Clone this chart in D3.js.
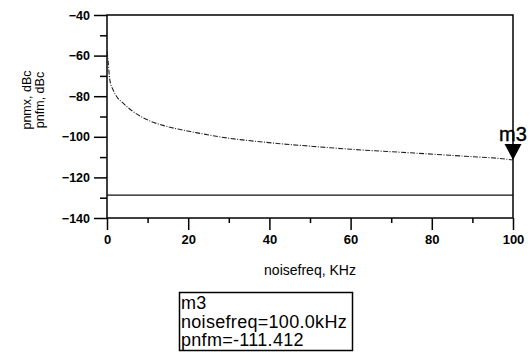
<!DOCTYPE html>
<html>
<head>
<meta charset="utf-8">
<script src="https://cdn.jsdelivr.net/npm/d3@7"></script>
<style>
  html, body { margin: 0; padding: 0; background: #fff; }
  svg { display: block; font-family: "Liberation Sans", Arial, sans-serif; }
</style>
</head>
<body>
<svg id="chart" width="531" height="352"></svg>
<script>
// Noise offset frequency (kHz) and the FM phase-noise curve (dBc)
const noisefreq = [0.05, 0.25, 0.7, 1.5, 2.5, 3.9, 5.9, 8, 10.8, 14, 17.5, 22.9, 28, 32.8, 37, 42.6, 50, 55, 59.9, 66, 72.2, 78, 84.5, 90, 96.8, 100];
const pnfm      = [-58, -62.2, -72.0, -76.9, -80.5, -83.3, -86.8, -89.6, -92.4, -94.5, -96.2, -98.3, -100.1, -101.4, -102.3, -103.4, -104.6, -105.4, -106.1, -106.9, -107.6, -108.3, -109.1, -109.8, -110.7, -111.412];
// Modulator phase noise, flat across the band
const pnmxFreq  = [0, 25, 50, 75, 100];
const pnmx      = [-128.7, -128.7, -128.7, -128.7, -128.7];

const xTicks = [0, 20, 40, 60, 80, 100];
const xMinor = [10, 30, 50, 70, 90];
const yTicks = [-140, -120, -100, -80, -60, -40];
const yMinor = [-130, -110, -90, -70, -50];

const marker = { name: "m3", freq: 100, value: -111.412 };

const svg = d3.select("#chart");
const x = d3.scaleLinear().domain([0, 100]).range([107, 513]);
const y = d3.scaleLinear().domain([-140, -40]).range([218, 15]);

// Axes: major and minor ticks drawn outside the frame
const gx = svg.append("g").attr("transform", `translate(0,${y(-140)})`);
gx.call(d3.axisBottom(x).tickValues(xTicks).tickSize(12).tickFormat(d3.format("d")));
const gxm = svg.append("g").attr("transform", `translate(0,${y(-140)})`);
gxm.call(d3.axisBottom(x).tickValues(xMinor).tickSize(5).tickFormat(""));

const gy = svg.append("g").attr("transform", `translate(${x(0)},0)`);
gy.call(d3.axisLeft(y).tickValues(yTicks).tickSize(13).tickFormat(d3.format("d")));
const gym = svg.append("g").attr("transform", `translate(${x(0)},0)`);
gym.call(d3.axisLeft(y).tickValues(yMinor).tickSize(7).tickFormat(""));

svg.selectAll(".domain").remove();
svg.selectAll(".tick line").attr("stroke", "#000").attr("stroke-width", 1.5);
gx.selectAll(".tick text").attr("font-size", 13).attr("font-weight", "bold")
  .attr("fill", "#000").attr("dy", "0.85em");
gy.selectAll(".tick text").attr("font-size", 12.5).attr("font-weight", "bold")
  .attr("fill", "#000").attr("dx", "-1px");

// Plot frame
svg.append("rect")
  .attr("x", x(0)).attr("y", y(-40))
  .attr("width", x(100) - x(0)).attr("height", y(-140) - y(-40))
  .attr("fill", "none").attr("stroke", "#000").attr("stroke-width", 1.5);

// Traces
const line = d3.line().x(d => x(d[0])).y(d => y(d[1]));
svg.append("path")
  .datum(pnmxFreq.map((f, i) => [f, pnmx[i]]))
  .attr("d", line).attr("fill", "none")
  .attr("stroke", "#111").attr("stroke-width", 1.3);
svg.append("path")
  .datum(noisefreq.map((f, i) => [f, pnfm[i]]))
  .attr("d", d3.line().curve(d3.curveMonotoneX).x(d => x(d[0])).y(d => y(d[1])))
  .attr("fill", "none").attr("stroke", "#222").attr("stroke-width", 1.1)
  .attr("stroke-dasharray", "5,1.5,1,1.5");

// Marker triangle and label
const mx = x(marker.freq), my = y(marker.value);
svg.append("path")
  .attr("d", `M${mx - 8.5},${my - 16}L${mx + 8.5},${my - 16}L${mx},${my}Z`)
  .attr("fill", "#000");
svg.append("text")
  .attr("x", mx).attr("y", my - 19)
  .attr("text-anchor", "middle")
  .attr("font-size", 20).attr("fill", "#000")
  .attr("stroke", "#000").attr("stroke-width", 0.4)
  .text(marker.name);

// Axis titles
svg.append("text")
  .attr("x", (x(0) + x(100)) / 2).attr("y", 275)
  .attr("text-anchor", "middle").attr("font-size", 14).attr("fill", "#000")
  .text("noisefreq, KHz");
const yt = svg.append("text")
  .attr("transform", `translate(31,100) rotate(-90)`)
  .attr("text-anchor", "middle").attr("font-size", 12.5).attr("fill", "#000");
yt.append("tspan").attr("x", 0).attr("dy", 0).text("pnmx, dBc");
yt.append("tspan").attr("x", 0).attr("dy", 13).text("pnfm, dBc");

// Marker readout box
const box = svg.append("g");
box.append("rect")
  .attr("x", 179.5).attr("y", 292.5).attr("width", 173).attr("height", 58)
  .attr("fill", "#fff").attr("stroke", "#000").attr("stroke-width", 1.5);
const readout = [
  marker.name,
  `noisefreq=${marker.freq.toFixed(1)}kHz`,
  `pnfm=${marker.value.toFixed(3)}`
];
box.selectAll("text.readout").data(readout).join("text")
  .attr("class", "readout")
  .attr("x", 181).attr("y", (d, i) => 309 + i * 18.5)
  .attr("font-size", 18).attr("letter-spacing", 0.3).attr("fill", "#000")
  .text(d => d);
</script>
</body>
</html>
